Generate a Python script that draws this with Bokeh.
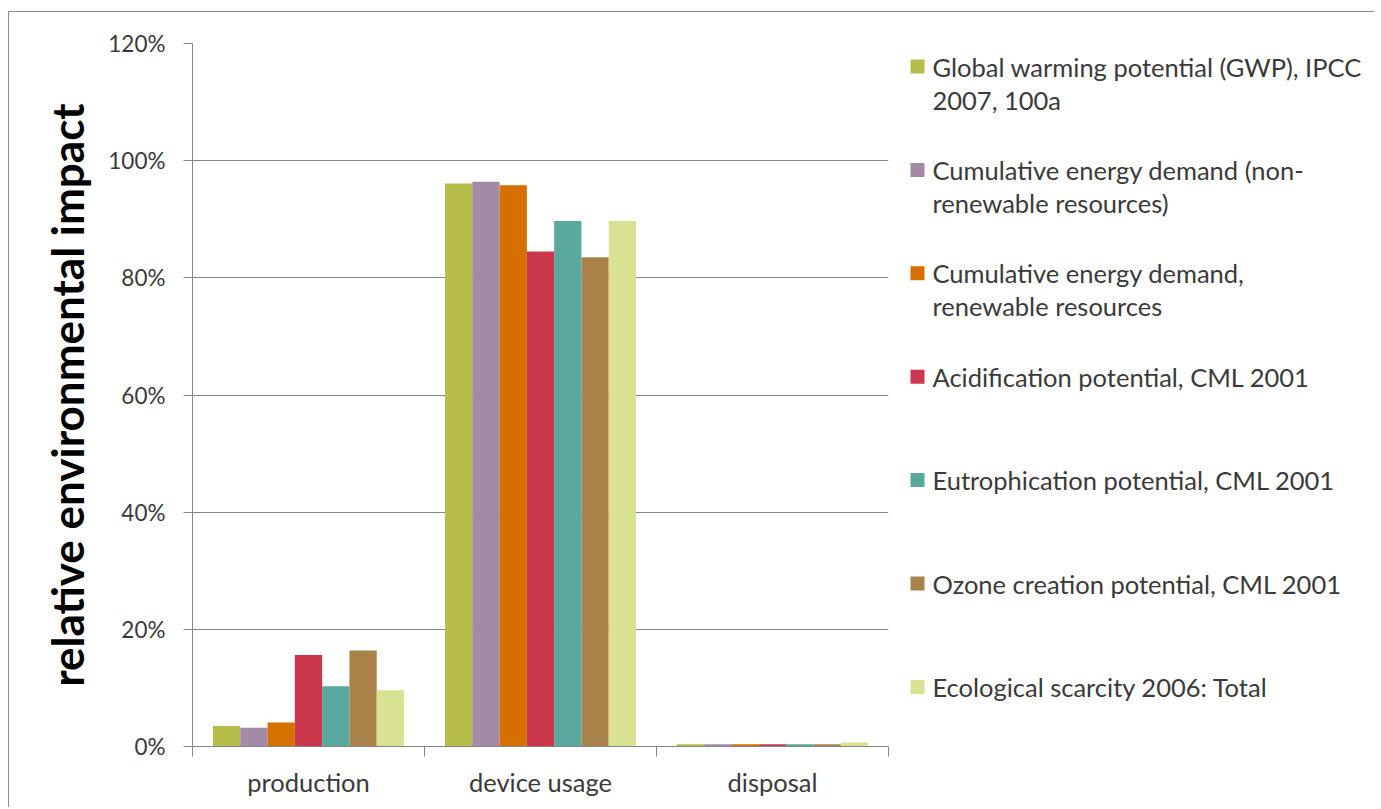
from bokeh.plotting import figure
from bokeh.models import Range1d, FixedTicker, NumeralTickFormatter
from bokeh.layouts import row
from bokeh.core.properties import value
from bokeh.embed import file_html
from bokeh.resources import INLINE

# ---- data ----
categories = ["production", "device usage", "disposal"]
series_names = [
    "Global warming potential (GWP), IPCC\n2007, 100a",
    "Cumulative energy demand (non-\nrenewable resources)",
    "Cumulative energy demand,\nrenewable resources",
    "Acidification potential, CML 2001",
    "Eutrophication potential, CML 2001",
    "Ozone creation potential, CML 2001",
    "Ecological scarcity 2006: Total",
]
gwp = [0.035, 0.961, 0.004]
ced_nonrenewable = [0.032, 0.964, 0.004]
ced_renewable = [0.041, 0.958, 0.004]
acidification = [0.156, 0.845, 0.004]
eutrophication = [0.103, 0.897, 0.004]
ozone_creation = [0.164, 0.835, 0.004]
ecological_scarcity = [0.096, 0.897, 0.007]
series_values = [gwp, ced_nonrenewable, ced_renewable, acidification,
                 eutrophication, ozone_creation, ecological_scarcity]
colors = ["#B6BD4B", "#A38AA7", "#D57000", "#CB384B", "#5AA99E", "#A9824A", "#D9E293"]
y_ticks = [0, 0.2, 0.4, 0.6, 0.8, 1.0, 1.2]
y_title = "relative environmental impact"

FONT = "Lato"
GRAY = "#868686"
TXT = "#3a3a3a"

H = 795
n = len(series_values)
bar_w = 1.0 / (n + 1.5)

p = figure(width=890, height=H, output_backend="svg", toolbar_location=None,
           x_range=Range1d(0, len(categories)), y_range=Range1d(0, 1.2),
           min_border_left=183, min_border_right=11, min_border_top=31,
           min_border_bottom=H - 734)
p.outline_line_color = None
p.xgrid.visible = False
p.ygrid.grid_line_color = GRAY
p.ygrid.grid_line_width = 1
p.ygrid.ticker = FixedTicker(ticks=y_ticks)

for j, vals in enumerate(series_values):
    xs = [i + 0.5 + (j - (n - 1) / 2) * bar_w for i in range(len(categories))]
    p.vbar(x=xs, top=vals, width=bar_w, bottom=0, fill_color=colors[j], line_color=None)

# x axis: labels at centres, ticks at category boundaries
xa = p.xaxis[0]
xa.ticker = FixedTicker(ticks=[i + 0.5 for i in range(len(categories))],
                        minor_ticks=list(range(len(categories) + 1)))
xa.major_label_overrides = {i + 0.5: c for i, c in enumerate(categories)}
xa.major_tick_out = 0
xa.major_tick_in = 0
xa.minor_tick_out = 10
xa.minor_tick_in = 0
xa.minor_tick_line_color = GRAY
xa.axis_line_color = GRAY
xa.major_label_text_font = FONT
xa.major_label_text_font_size = "25.5px"
xa.major_label_text_color = TXT
xa.major_label_standoff = 10

ya = p.yaxis[0]
ya.ticker = FixedTicker(ticks=y_ticks)
ya.formatter = NumeralTickFormatter(format="0%")
ya.major_tick_out = 9
ya.major_tick_in = 0
ya.minor_tick_line_color = None
ya.major_tick_line_color = GRAY
ya.axis_line_color = GRAY
ya.major_label_text_font = FONT
ya.major_label_text_font_size = "22.5px"
ya.major_label_text_color = TXT
ya.major_label_standoff = 18
ya.axis_label = y_title
ya.axis_label_text_font = FONT
ya.axis_label_text_font_style = "bold"
ya.axis_label_text_font_size = "44px"
ya.axis_label_text_color = "#000000"
ya.axis_label_standoff = 12

# ---- legend panel (its frame is aligned with the plot frame) ----
LW = 475
leg = figure(width=LW, height=H, output_backend="svg", toolbar_location=None,
             x_range=Range1d(899, 899 + LW), y_range=Range1d(746, 43),
             x_axis_type=None, y_axis_type=None, min_border=0)
leg.outline_line_color = None
leg.grid.visible = False

item_y0 = 66
item_gap = 103.4
line_gap = 33
sq_x = 917
txt_x = 932
sx, sy, sc, tx, ty, tt = [], [], [], [], [], []
for j, name in enumerate(series_names):
    yc = item_y0 + j * item_gap
    sx.append(sq_x); sy.append(yc); sc.append(colors[j])
    for k, line in enumerate(name.split("\n")):
        tx.append(txt_x); ty.append(yc + k * line_gap); tt.append(line)
leg.scatter(x=sx, y=sy, marker="square", size=14, fill_color=sc, line_color=None)
leg.text(x=tx, y=ty, text=tt, text_baseline="middle", text_align="left",
         text_font=value(FONT), text_font_size="25.5px", text_color=TXT)

layout = row(p, leg, margin=(11, 0, 0, 8),
             styles={"border-top": "1px solid #8c8c8c", "border-left": "1px solid #8c8c8c"})

open("out.html", "w").write(file_html(layout, INLINE))
